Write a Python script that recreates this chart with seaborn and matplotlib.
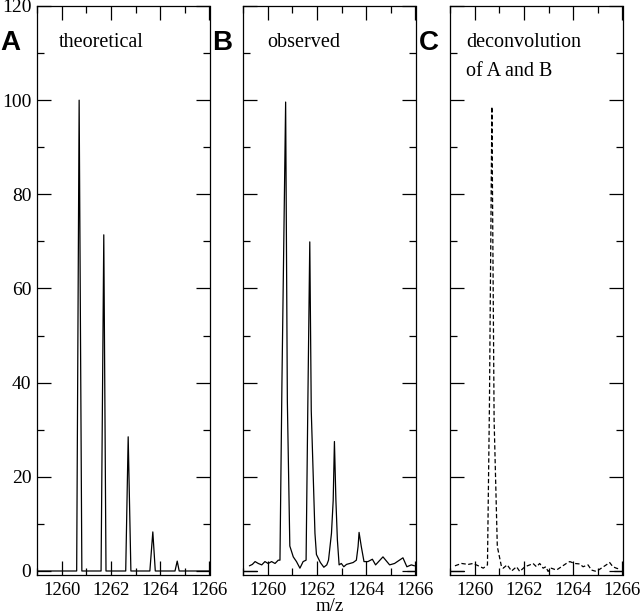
import matplotlib
matplotlib.use('Agg')
import matplotlib.pyplot as plt
from matplotlib.ticker import MultipleLocator
import pandas as pd
import seaborn as sns

# theoretical isotope pattern (sticks joined by the plotting program)
theo_mz = [1259.0, 1260.61, 1260.71, 1260.82, 1261.60, 1261.71, 1261.80,
           1262.60, 1262.70, 1262.81, 1263.58, 1263.70, 1263.80,
           1264.60, 1264.69, 1264.77, 1266.0]
theo_int = [0, 0, 100, 0, 0, 71.4, 0, 0, 28.5, 0, 0, 8.3, 0, 0, 2.1, 0, 0]

# observed spectrum
obs_mz = [1259.26, 1259.38, 1259.49, 1259.62, 1259.76, 1259.89, 1260.02, 1260.16,
          1260.30, 1260.43, 1260.50, 1260.58, 1260.73, 1260.80, 1260.90, 1261.04,
          1261.17, 1261.31, 1261.44, 1261.56, 1261.63, 1261.71, 1261.77, 1261.92,
          1261.98, 1262.14, 1262.28, 1262.40, 1262.47, 1262.59, 1262.66, 1262.71,
          1262.77, 1262.83, 1262.90, 1262.99, 1263.09, 1263.20, 1263.47, 1263.60,
          1263.67, 1263.71, 1263.80, 1263.91, 1264.07, 1264.25, 1264.38, 1264.68,
          1264.95, 1265.15, 1265.49, 1265.65, 1265.83, 1265.96]
obs_int = [1.1, 1.4, 2.0, 1.6, 1.3, 2.0, 1.6, 2.0,
           1.6, 2.3, 2.3, 40.0, 99.6, 36.0, 5.3, 3.0,
           2.0, 0.6, 2.0, 2.3, 35.0, 69.9, 34.0, 8.0,
           3.5, 1.8, 0.8, 1.3, 2.3, 8.0, 15.0, 27.5,
           15.0, 6.6, 1.3, 1.6, 0.9, 1.4, 1.8, 2.3,
           5.2, 8.2, 5.2, 2.0, 2.0, 2.5, 1.3, 3.0,
           1.3, 1.6, 2.8, 0.9, 1.3, 1.1]

# deconvolution of A and B
dec_mz = [1259.20, 1259.47, 1259.74, 1259.94, 1260.15, 1260.35, 1260.52, 1260.60,
          1260.70, 1260.79, 1260.92, 1261.09, 1261.16, 1261.32, 1261.50, 1261.70,
          1261.83, 1262.04, 1262.24, 1262.37, 1262.51, 1262.64, 1262.78, 1262.89,
          1262.98, 1263.11, 1263.32, 1263.52, 1263.72, 1263.86, 1264.06, 1264.26,
          1264.40, 1264.60, 1264.74, 1264.94, 1265.14, 1265.34, 1265.48, 1265.61,
          1265.75, 1265.88]
dec_int = [1.1, 1.6, 1.4, 1.6, 1.1, 0.6, 1.3, 35.0,
           98.6, 32.0, 5.2, 0.9, 0.6, 1.3, 0.0, 0.9,
           -0.1, 0.9, 1.3, 1.6, 0.9, 1.6, 0.6, 0.9,
           -0.1, 0.6, 0.2, 0.9, 1.6, 2.0, 1.6, 1.5,
           0.9, 1.3, 0.2, -0.1, 0.6, 1.3, 1.8, 0.9,
           0.6, 0.4]

# short zero baseline segments at the panel edges
zero_left = [1259.0, 1259.55]
zero_right = [1265.65, 1266.0]

letters = ['A', 'B', 'C']
captions = [['theoretical'], ['observed'], ['deconvolution', 'of A and B']]
caption_x = [1259.9, 1260.0, 1259.64]

sns.set_theme(style='ticks')
plt.rcParams['font.family'] = ['Liberation Serif', 'DejaVu Serif']
plt.rcParams['axes.linewidth'] = 0.9
plt.rcParams['text.color'] = 'black'
plt.rcParams['xtick.labelcolor'] = 'black'
plt.rcParams['ytick.labelcolor'] = 'black'

fig = plt.figure(figsize=(6.4, 6.16), dpi=100)
lefts = [37 / 640, 243 / 640, 450 / 640]
width = 172.5 / 640
bottom = 1 - 575 / 616
height = (575 - 6) / 616

series = [(theo_mz, theo_int, '-'), (obs_mz, obs_int, '-'), (dec_mz, dec_int, '--')]

for i, (mz, inten, ls) in enumerate(series):
    ax = fig.add_axes([lefts[i], bottom, width, height])
    d = pd.DataFrame({'mz': mz, 'intensity': inten})
    sns.lineplot(data=d, x='mz', y='intensity', ax=ax, color='black', lw=0.9,
                 linestyle=ls, sort=False, estimator=None)
    if ls == '--':
        ax.lines[-1].set_dashes((3.5, 2))
    if i > 0:
        for seg in (zero_left, zero_right):
            sns.lineplot(x=seg, y=[0, 0], ax=ax, color='black', lw=0.9)
    ax.set_xlim(1259, 1266)
    ax.set_ylim(-0.85, 120)
    ax.xaxis.set_major_locator(MultipleLocator(2))
    ax.xaxis.set_minor_locator(MultipleLocator(1))
    ax.yaxis.set_major_locator(MultipleLocator(20))
    ax.yaxis.set_minor_locator(MultipleLocator(10))
    ax.tick_params(which='both', direction='in', top=True, right=True,
                   color='black', labelcolor='black', width=0.9)
    ax.tick_params(axis='x', pad=5, labelsize=13.5)
    ax.tick_params(axis='y', pad=4, labelsize=14)
    ax.tick_params(which='major', length=10)
    ax.tick_params(which='minor', length=5)
    for s in ax.spines.values():
        s.set_visible(True)
        s.set_color('black')
    if i > 0:
        ax.set_yticklabels([])
    ax.set_xlabel('')
    ax.set_ylabel('')
    for k, line in enumerate(captions[i]):
        ax.text(caption_x[i], 112.2 - 6.2 * k, line, fontsize=14.5, va='center',
                ha='left', color='black')
    fig.text((lefts[i] * 640 - (37 if i == 0 else 31)) / 640, 1 - 43 / 616,
             letters[i], fontsize=20, fontweight='bold', family='Liberation Sans',
             va='center', ha='left', color='black')

fig.text((243 + 86.5) / 640, 0.002, 'm/z', fontsize=13.5, ha='center', va='bottom',
         color='black')

fig.savefig('out.png', dpi=100)
